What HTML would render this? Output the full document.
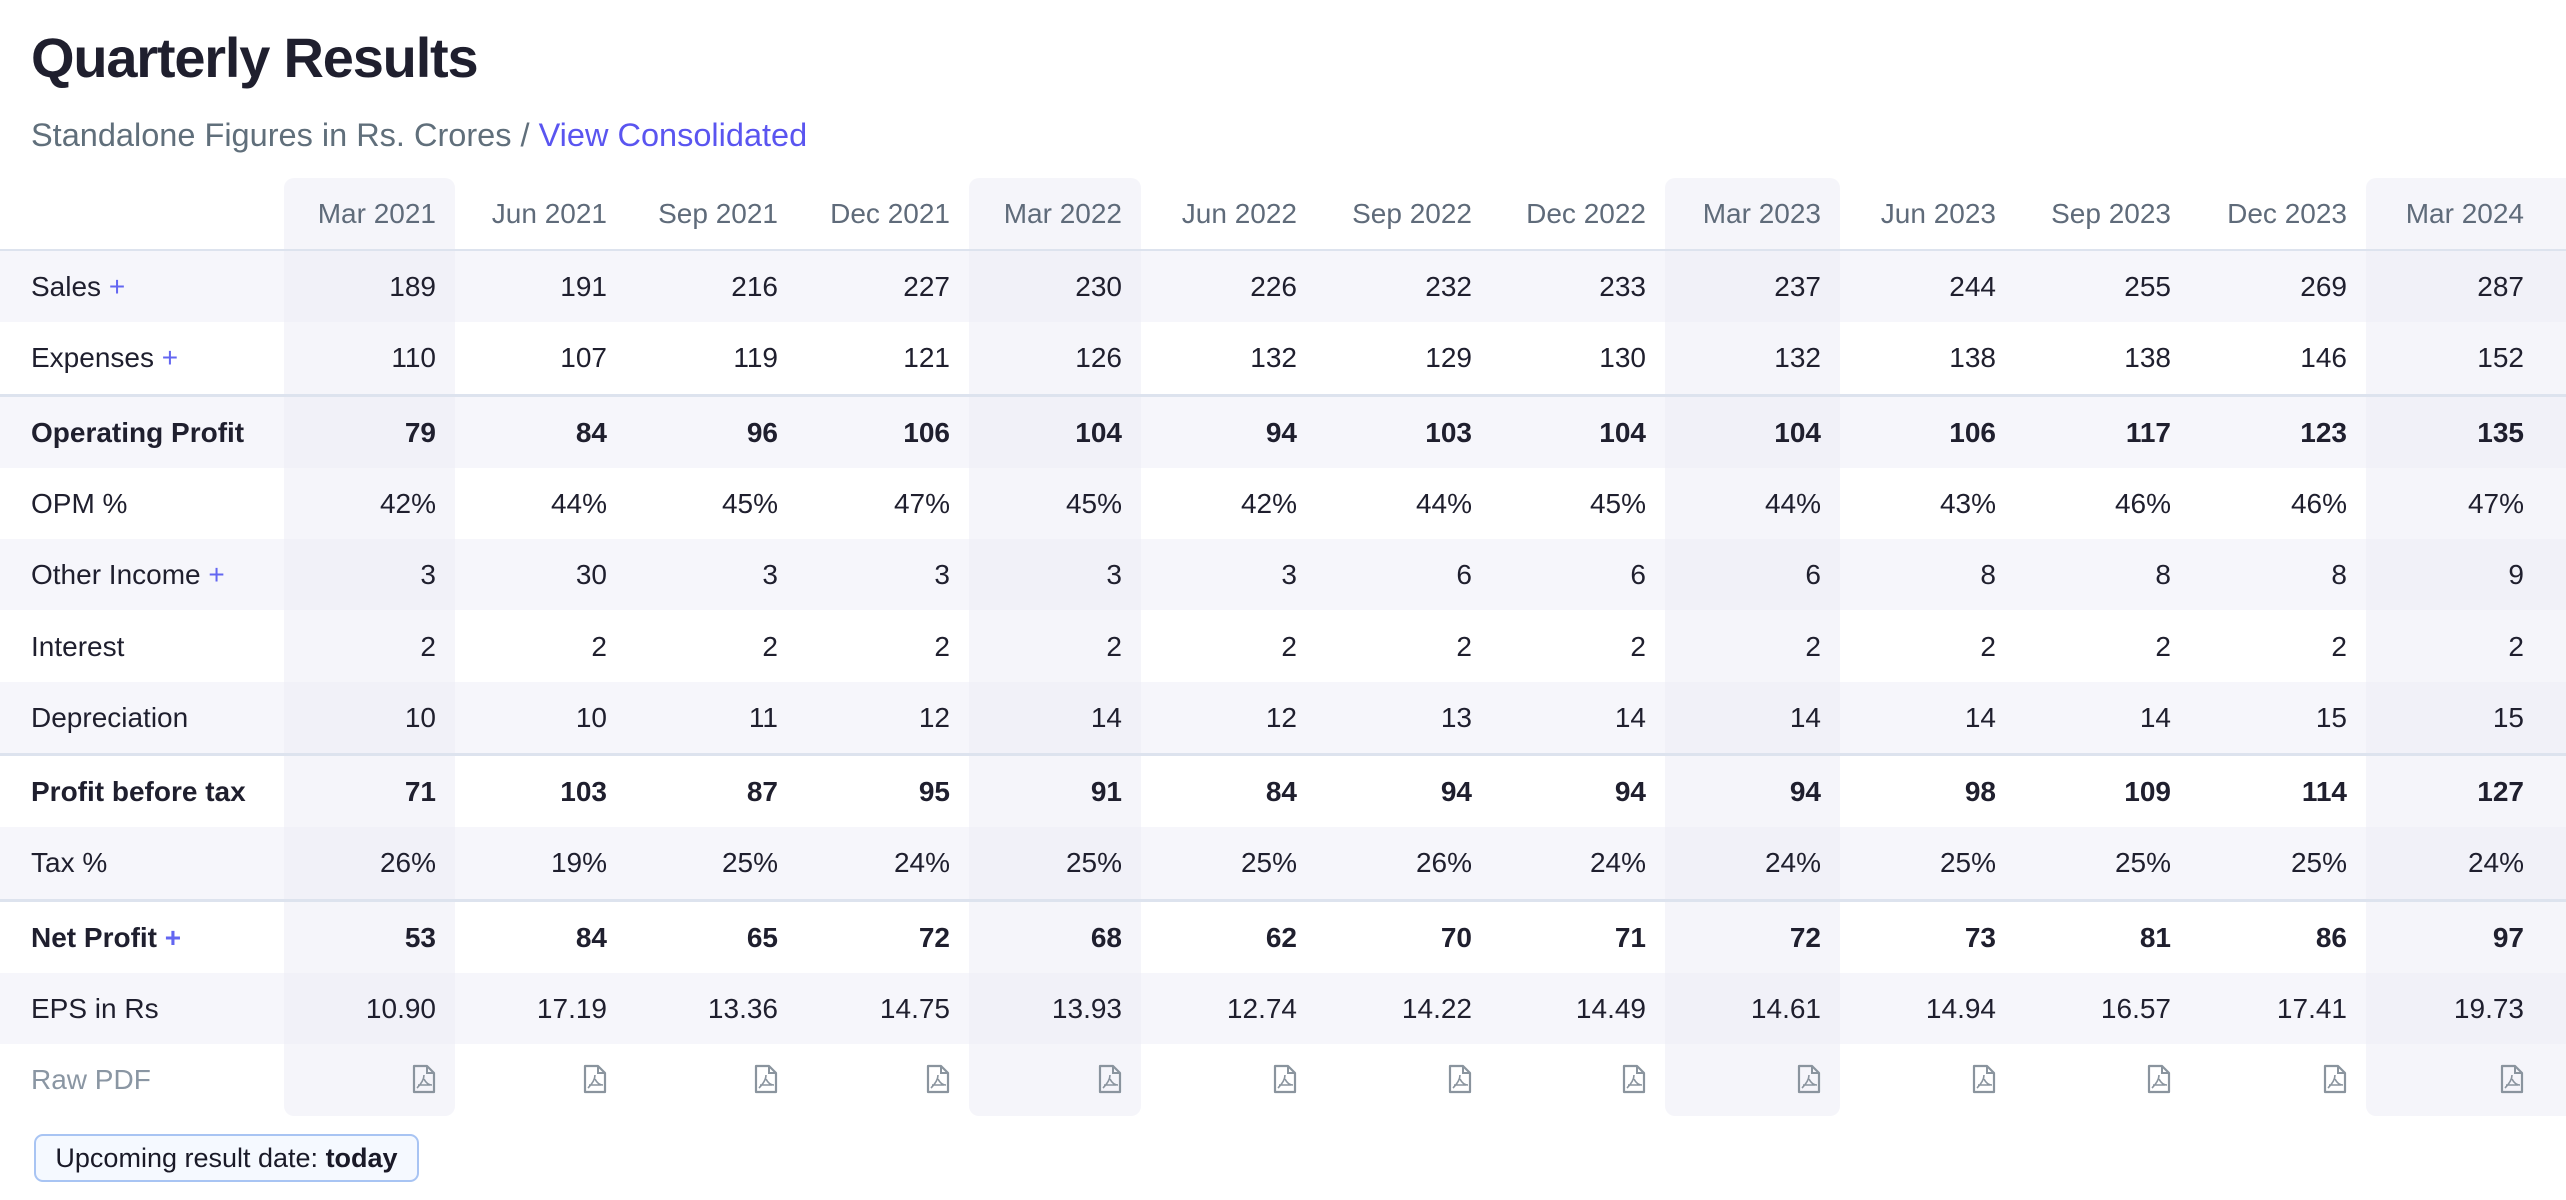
<!DOCTYPE html>
<html><head><meta charset="utf-8">
<style>
html,body{margin:0;padding:0;background:#fff;}
body{width:2566px;height:1200px;position:relative;overflow:hidden;font-family:"Liberation Sans",sans-serif;}
.abs{position:absolute;}
#title{left:31px;top:25px;font-size:56px;font-weight:bold;color:#1f1f2e;line-height:66px;white-space:nowrap;letter-spacing:-1.2px;}
#subtitle{left:31px;top:115px;font-size:32.5px;color:#606f7b;line-height:40px;white-space:nowrap;}
#subtitle a{color:#5a55f0;text-decoration:none;}
.hl{background:rgba(236,236,246,0.55);border-radius:10px;}
.stripe{background:rgba(240,240,248,0.6);}
.sep{background:#dde3ee;}
.cell{font-size:28px;color:#1f1f2e;white-space:nowrap;text-align:right;}
.hdr{font-size:28px;color:#5f6b7a;white-space:nowrap;text-align:right;}
.lbl{font-size:28px;color:#1f1f2e;white-space:nowrap;}
.b{font-weight:bold;}
.plus{color:#6366f1;}
#badge{left:34px;top:1134px;width:381px;height:44px;border:2px solid #a8c4f3;border-radius:9px;background:#f5f9ff;font-size:27px;color:#1a1a28;line-height:44px;text-align:center;white-space:nowrap;}
</style></head>
<body>
<div id="title" class="abs">Quarterly Results</div>
<div id="subtitle" class="abs">Standalone Figures in Rs. Crores / <a>View Consolidated</a></div>
<div id="table"></div>
<div id="badge" class="abs">Upcoming result date: <b>today</b></div>
<script>
const quarters = ["Mar 2021","Jun 2021","Sep 2021","Dec 2021","Mar 2022","Jun 2022","Sep 2022","Dec 2022","Mar 2023","Jun 2023","Sep 2023","Dec 2023","Mar 2024"];
const sales = ["189","191","216","227","230","226","232","233","237","244","255","269","287"];
const expenses = ["110","107","119","121","126","132","129","130","132","138","138","146","152"];
const operatingProfit = ["79","84","96","106","104","94","103","104","104","106","117","123","135"];
const opm = ["42%","44%","45%","47%","45%","42%","44%","45%","44%","43%","46%","46%","47%"];
const otherIncome = ["3","30","3","3","3","3","6","6","6","8","8","8","9"];
const interest = ["2","2","2","2","2","2","2","2","2","2","2","2","2"];
const depreciation = ["10","10","11","12","14","12","13","14","14","14","14","15","15"];
const profitBeforeTax = ["71","103","87","95","91","84","94","94","94","98","109","114","127"];
const taxPct = ["26%","19%","25%","24%","25%","25%","26%","24%","24%","25%","25%","25%","24%"];
const netProfit = ["53","84","65","72","68","62","70","71","72","73","81","86","97"];
const eps = ["10.90","17.19","13.36","14.75","13.93","12.74","14.22","14.49","14.61","14.94","16.57","17.41","19.73"];
const highlighted = [0,4,8,12];

const rows = [
 {label:"Sales", plus:true, vals:sales},
 {label:"Expenses", plus:true, vals:expenses, sepAfter:true},
 {label:"Operating Profit", bold:true, vals:operatingProfit},
 {label:"OPM %", vals:opm},
 {label:"Other Income", plus:true, vals:otherIncome},
 {label:"Interest", vals:interest},
 {label:"Depreciation", vals:depreciation, sepAfter:true},
 {label:"Profit before tax", bold:true, vals:profitBeforeTax},
 {label:"Tax %", vals:taxPct, sepAfter:true},
 {label:"Net Profit", plus:true, bold:true, vals:netProfit},
 {label:"EPS in Rs", vals:eps},
 {label:"Raw PDF", pdf:true}
];

const widths=[171,171,171,172,172,175,175,174,175,175,175,176,200];
const colLeft=[];let acc=284;for(const w of widths){colLeft.push(acc);acc+=w;}
const rowH=71.3, hdrTop=178, hdrBot=249;
const root=document.getElementById('table');
function mk(cls,l,t,w,h){const d=document.createElement('div');d.className='abs '+cls;d.style.left=l+'px';d.style.top=t+'px';d.style.width=w+'px';d.style.height=h+'px';root.appendChild(d);return d;}

const tops=[];let y=251;
rows.forEach((r)=>{tops.push(y);y+=rowH;if(r.sepAfter)y+=3;});
const tableBottom=y;

rows.forEach((r,i)=>{ if(i%2===0){const s=mk('stripe',0,tops[i],2566,rowH);

}});
highlighted.forEach(c=>{const h=mk('hl',colLeft[c],hdrTop,widths[c]+(c===12?20:0),tableBottom-hdrTop);

});
const s0=mk('sep',0,hdrBot,2566,2);


rows.forEach((r,i)=>{if(r.sepAfter){const s=mk('sep',0,tops[i]+rowH,2566,3);

}});

quarters.forEach((q,c)=>{const pad=(c===12?42:19);
const d=mk('hdr',colLeft[c],hdrTop,widths[c]-pad,hdrBot-hdrTop);d.style.lineHeight=(hdrBot-hdrTop)+'px';d.textContent=q;

});

const pdfSvg='<svg width="24" height="30" viewBox="0 0 24 30"><path d="M2 2h13l7 7v19H2z" fill="none" stroke="#8a949e" stroke-width="2.2" stroke-linejoin="round"/><path d="M15 2v7h7" fill="none" stroke="#8a949e" stroke-width="2"/><path d="M12 11c0 4-3 9-7 13M12 15c2 4 5 6 8 6M6 21h12" fill="none" stroke="#8a949e" stroke-width="1.6"/></svg>';
rows.forEach((r,i)=>{
 const t=tops[i];
 const l=mk('lbl'+(r.bold?' b':''),31,t,260,rowH);l.style.lineHeight=rowH+'px';
 if(r.pdf)l.style.color='#8a96a3';
 l.innerHTML=r.label+(r.plus?' <span class="plus">+</span>':'');
 
 
 quarters.forEach((q,c)=>{const pad=(c===12?42:19);
  const d=mk('cell'+(r.bold?' b':''),colLeft[c],t,widths[c]-pad,rowH);d.style.lineHeight=rowH+'px';
  if(r.pdf){d.innerHTML=pdfSvg;d.style.paddingTop='20px';d.style.height=(rowH-20)+'px';d.style.lineHeight='30px';
   
   }
  else{d.textContent=r.vals[c];
   
   }
 });
});
</script>
</body></html>
